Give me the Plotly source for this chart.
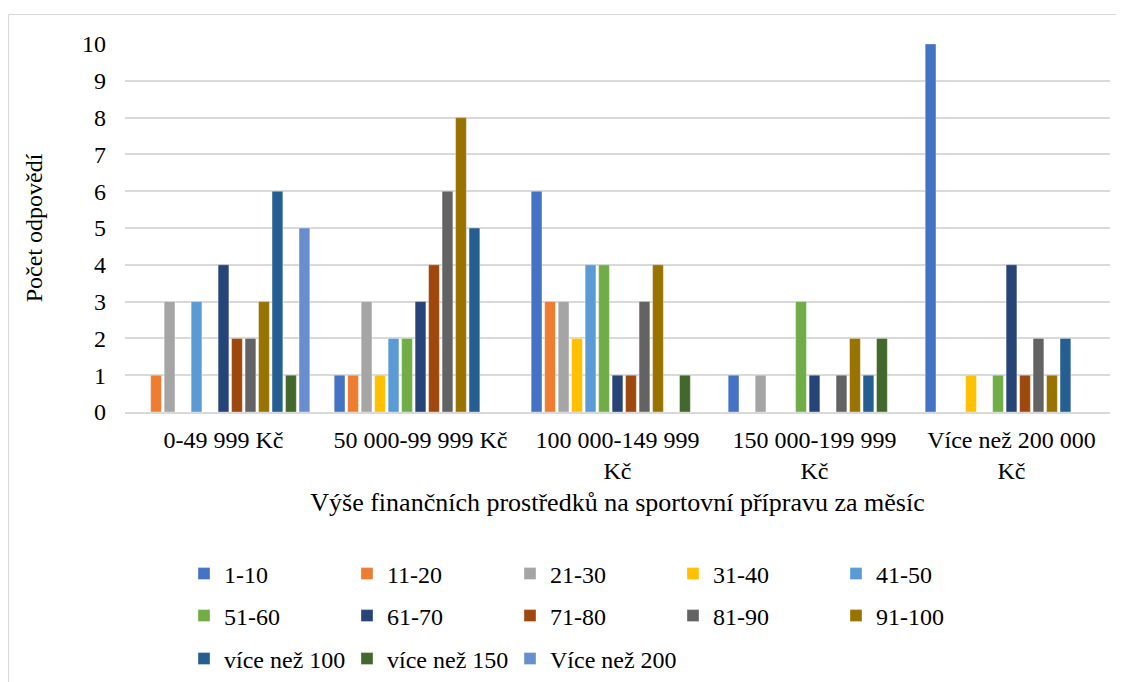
import plotly.graph_objects as go

categories = ["0-49 999 Kč", "50 000-99 999 Kč", "100 000-149 999<br>Kč",
              "150 000-199 999<br>Kč", "Více než 200 000<br>Kč"]

series_names = ["1-10", "11-20", "21-30", "31-40", "41-50", "51-60", "61-70",
                "71-80", "81-90", "91-100", "více než 100", "více než 150", "Více než 200"]

s_1_10 = [0, 1, 6, 1, 10]
s_11_20 = [1, 1, 3, 0, 0]
s_21_30 = [3, 3, 3, 1, 0]
s_31_40 = [0, 1, 2, 0, 1]
s_41_50 = [3, 2, 4, 0, 0]
s_51_60 = [0, 2, 4, 3, 1]
s_61_70 = [4, 3, 1, 1, 4]
s_71_80 = [2, 4, 1, 0, 1]
s_81_90 = [2, 6, 3, 1, 2]
s_91_100 = [3, 8, 4, 2, 1]
s_100 = [6, 5, 0, 1, 2]
s_150 = [1, 0, 1, 2, 0]
s_200 = [5, 0, 0, 0, 0]

series_values = [s_1_10, s_11_20, s_21_30, s_31_40, s_41_50, s_51_60, s_61_70,
                 s_71_80, s_81_90, s_91_100, s_100, s_150, s_200]

colors = ["#4472C4", "#ED7D31", "#A5A5A5", "#FFC000", "#5B9BD5", "#70AD47", "#264478",
          "#9E480E", "#636363", "#997300", "#255E91", "#43682B", "#698ED0"]

legend_ids = ["legend"] * 5 + ["legend2"] * 5 + ["legend3"] * 3

FONT = "Liberation Serif"

fig = go.Figure()
for name, vals, col, lg in zip(series_names, series_values, colors, legend_ids):
    fig.add_trace(go.Bar(
        name=name, x=categories, y=vals,
        marker=dict(color=col, line=dict(color="rgba(255,255,255,0.6)", width=0.6)),
        legend=lg,
    ))

# invisible spacer entry so the last legend row is not clipped
fig.add_trace(go.Scatter(x=[None], y=[None], mode="markers", name=" ",
                         marker=dict(color="rgba(0,0,0,0)", size=1,
                                     line=dict(width=0, color="rgba(0,0,0,0)")),
                         legend="legend3", hoverinfo="skip"))

# page body has an 8px margin, so figure coordinates = screen - 8
OFF = 8
W, H = 1124 - OFF, 682 - OFF
ml, mr, mt, mb = 125 - OFF, 14, 44 - OFF, 270
pw, ph = W - ml - mr, H - mt - mb


def fx(x):  # figure-pixel x -> paper
    return (x - ml) / pw


def fy(y):  # figure-pixel y -> paper
    return (H - mb - y) / ph


def sx(x):  # screen x -> paper
    return fx(x - OFF)


def sy(y):  # screen y -> paper
    return fy(y - OFF)


legend_common = dict(
    orientation="h", xanchor="left", yanchor="middle",
    font=dict(family=FONT, size=24, color="#000000"),
    entrywidth=118, entrywidthmode="pixels",
    bgcolor="rgba(0,0,0,0)", traceorder="normal",
    itemclick=False,
)

fig.update_layout(
    width=W, height=H,
    margin=dict(l=ml, r=mr, t=mt, b=mb, autoexpand=False),
    paper_bgcolor="white", plot_bgcolor="white",
    barmode="group", bargap=0.11, bargroupgap=0.2,
    font=dict(family=FONT, size=24, color="#000000"),
    showlegend=True,
    legend=dict(x=fx(176), y=sy(574), **legend_common),
    legend2=dict(x=fx(176), y=sy(616), **legend_common),
    legend3=dict(x=fx(176), y=sy(659), **legend_common),
    xaxis=dict(
        showgrid=False, showline=True, linecolor="#D9D9D9", linewidth=1.5,
        ticks="", ticklabelstandoff=5,
        tickfont=dict(family=FONT, size=24, color="#000000"),
        title=dict(text="Výše finančních prostředků na sportovní přípravu za měsíc",
                   font=dict(family=FONT, size=26, color="#000000"), standoff=10),
    ),
    yaxis=dict(
        range=[0, 10], dtick=1, showgrid=True, gridcolor="#D9D9D9", gridwidth=1.5,
        zeroline=False, showline=False, ticks="", ticklabelstandoff=18,
        tickfont=dict(family=FONT, size=24, color="#000000"),
        title=dict(text="Počet odpovědí", font=dict(family=FONT, size=24, color="#000000"),
                   standoff=32),
    ),
    shapes=[
        dict(type="line", xref="paper", yref="paper",
             x0=sx(8.5), x1=sx(1130), y0=sy(14.5), y1=sy(14.5),
             line=dict(color="#D9D9D9", width=1.2)),
        dict(type="line", xref="paper", yref="paper",
             x0=sx(8.5), x1=sx(8.5), y0=sy(14.5), y1=sy(690),
             line=dict(color="#D9D9D9", width=1.2)),
    ],
)

fig.write_html("out.html")
